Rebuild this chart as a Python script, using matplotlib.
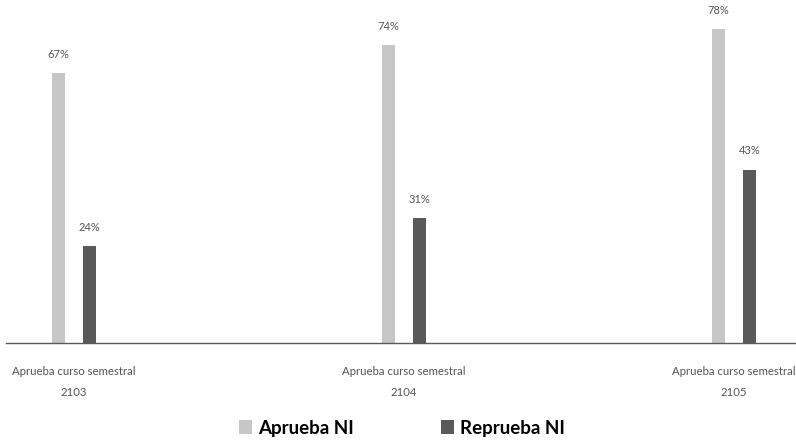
import matplotlib
matplotlib.use("Agg")
import matplotlib.pyplot as plt
import numpy as np

categories = ["Aprueba curso semestral\n2103", "Aprueba curso semestral\n2104", "Aprueba curso semestral\n2105"]
series_names = ["Aprueba NI", "Reprueba NI"]
aprueba = [67, 74, 78]
reprueba = [24, 31, 43]

light = "#c6c6c6"
dark = "#595959"
text_col = "#555555"

plt.rcParams["font.family"] = ["Lato", "DejaVu Sans"]

fig = plt.figure(figsize=(7.96, 4.40), dpi=100)
ax = fig.add_axes([6 / 796, (440 - 342.5) / 440, 790 / 796, 341.7 / 440])

x = np.arange(len(categories))
w = 0.04
off = 0.047
b1 = ax.bar(x - off, aprueba, w, color=light, label=series_names[0])
b2 = ax.bar(x + off, reprueba, w, color=dark, label=series_names[1])

for bars, vals in [(b1, aprueba), (b2, reprueba)]:
    for rect, v in zip(bars, vals):
        ax.annotate(f"{v}%", (rect.get_x() + rect.get_width() / 2, v),
                    xytext=(0, 9.5), textcoords="offset points",
                    ha="center", va="bottom", fontsize=8, color=text_col,
                    annotation_clip=False)

ax.set_xlim(-0.205, 2.188)
ax.set_ylim(0, 85)
ax.set_yticks([])
ax.set_xticks(x)
ax.set_xticklabels(categories, fontsize=8.2, color=text_col, linespacing=2.05)
ax.tick_params(axis="x", length=0, pad=17)
for s in ["top", "right", "left"]:
    ax.spines[s].set_visible(False)
ax.spines["bottom"].set_color(dark)
ax.spines["bottom"].set_linewidth(1.0)

leg = fig.legend(handles=[b1, b2], labels=series_names, loc="center",
                 bbox_to_anchor=(402 / 796, 1 - 428 / 440), ncol=2, frameon=False,
                 prop={"weight": "bold", "size": 13.5}, handlelength=0.7,
                 handleheight=0.7, handletextpad=0.35, columnspacing=4.6)

fig.savefig("out.png", dpi=100)
